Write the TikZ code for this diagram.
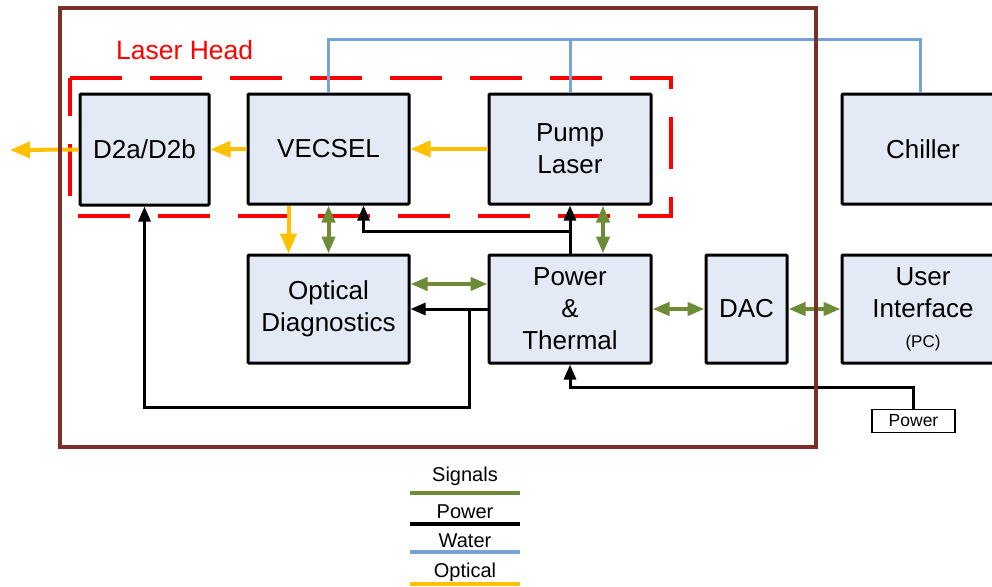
\documentclass[tikz,border=0pt]{standalone}
\usepackage{fontspec}
\setmainfont{Liberation Sans}
\usetikzlibrary{arrows.meta}
\definecolor{boxfill}{RGB}{228,234,245}
\definecolor{sigc}{RGB}{110,140,55}
\definecolor{watc}{RGB}{120,162,218}
\definecolor{optc}{RGB}{255,192,0}
\definecolor{brnc}{RGB}{120,48,40}
\tikzset{
 blk/.style={draw=black, line width=3pt, fill=boxfill, inner sep=0pt, align=center,
   font=\fontsize{26}{32}\selectfont, rounded corners=1pt},
 optl/.style={draw=optc, line width=4pt, -{Triangle[length=20pt,width=16pt]}},
 sigl/.style={draw=sigc, line width=4pt, {Triangle[length=17pt,width=13pt]}-{Triangle[length=17pt,width=13pt]}},
 pwrl/.style={draw=black, line width=3pt, -{Triangle[length=15pt,width=12pt]}},
 pwrp/.style={draw=black, line width=3pt},
 watl/.style={draw=watc, line width=3pt},
 legtxt/.style={font=\fontsize{20}{24}\selectfont, inner sep=0pt},
 legline/.style={line width=3.5pt},
}
\begin{document}
\begin{tikzpicture}[x=1pt,y=-1pt]
\useasboundingbox (0,0) rectangle (992,586);
\clip (0,0) rectangle (992,586);
% red dashed laser head
\draw[red, line width=3.5pt, dash pattern=on 52pt off 28pt]
  (70,78) -- (671,78) -- (671,216) -- (70,216) -- cycle;
\node[red, anchor=west, font=\fontsize{26.5}{30}\selectfont, inner sep=0pt] (lh) at (116,50) {Laser Head};
% boxes
\node[blk, minimum width=129pt, minimum height=111pt] (d2) at (144.5,149.5) {D2a/D2b};
\node[blk, minimum width=161pt, minimum height=110pt] (vec) at (328.5,149) {VECSEL};
\node[blk, minimum width=162pt, minimum height=110pt] (pump) at (570,149) {Pump\\Laser};
\node[blk, minimum width=162pt, minimum height=110pt] (chill) at (923,149) {Chiller};
\node[blk, minimum width=161pt, minimum height=108pt] (od) at (328.5,309) {Optical\\Diagnostics};
\node[blk, minimum width=162pt, minimum height=108pt] (pt) at (570,309) {Power\\\&\\Thermal};
\node[blk, minimum width=81pt, minimum height=108pt] (dac) at (746.5,309) {DAC};
\node[blk, minimum width=162pt, minimum height=108pt] (ui) at (923,309) {User\\Interface\\[-2pt]{\fontsize{17}{20}\selectfont (PC)}};
\node[draw=black, line width=1.5pt, fill=white, minimum width=83pt, minimum height=23pt, inner sep=0pt,
  font=\fontsize{17.5}{20}\selectfont] (pb) at (913.5,421) {Power};
% water
\coordinate (wl) at (328.5,40);
\coordinate (wm) at (570,40);
\coordinate (wr) at (920,40);
\draw[watl] (vec.north) -- (wl) -- (wr) -- (wr |- chill.north);
\draw[watl] (pump.north) -- (wm);
% optical
\coordinate (outl) at (10,150);
\draw[optl] (d2.west) -- (outl);
\draw[optl] (vec.west) -- (d2.east);
\draw[optl] (pump.west) -- (vec.east);
\draw[optl] ([xshift=-40pt]vec.south) -- ([xshift=-40pt]od.north);
% signals
\draw[sigl] (vec.south) -- (od.north);
\draw[sigl] ([xshift=33pt]pump.south) -- ([xshift=33pt]pt.north);
\draw[sigl] ([yshift=25pt]od.east) -- ([yshift=25pt]pt.west);
\draw[sigl] (pt.east) -- (dac.west);
\draw[sigl] (dac.east) -- (ui.west);
% power
\coordinate (j1) at (570,231);
\draw[pwrl] (pt.north) -- (pump.south);
\draw[pwrl] (j1) -| ([xshift=35pt]vec.south);
\coordinate (j2) at (469,309);
\draw[pwrl] (pt.west) -- (od.east);
\coordinate (j3) at (144.5,407);
\draw[pwrl] (j2) |- (j3) -- (d2.south);
\coordinate (j4) at (570,387);
\draw[pwrl] (pb.north) |- (j4) -- (pt.south);
% outer frame
\draw[brnc, line width=4pt] (60,8) rectangle (816,447);
% legend
\node[legtxt] (ls) at (465,476) {Signals};
\node[legtxt] (lp) at (465,512) {Power};
\node[legtxt] (lw) at (465,541) {Water};
\node[legtxt] (lo) at (465,572) {Optical};
\coordinate (ls1) at (410,493); \coordinate (ls2) at (520,493);
\coordinate (lp1) at (410,524); \coordinate (lp2) at (520,524);
\coordinate (lw1) at (410,552); \coordinate (lw2) at (520,552);
\coordinate (lo1) at (410,584); \coordinate (lo2) at (520,584);
\draw[legline, sigc] (ls1) -- (ls2);
\draw[legline, black] (lp1) -- (lp2);
\draw[legline, watc] (lw1) -- (lw2);
\draw[legline, optc] (lo1) -- (lo2);
\end{tikzpicture}
\end{document}
